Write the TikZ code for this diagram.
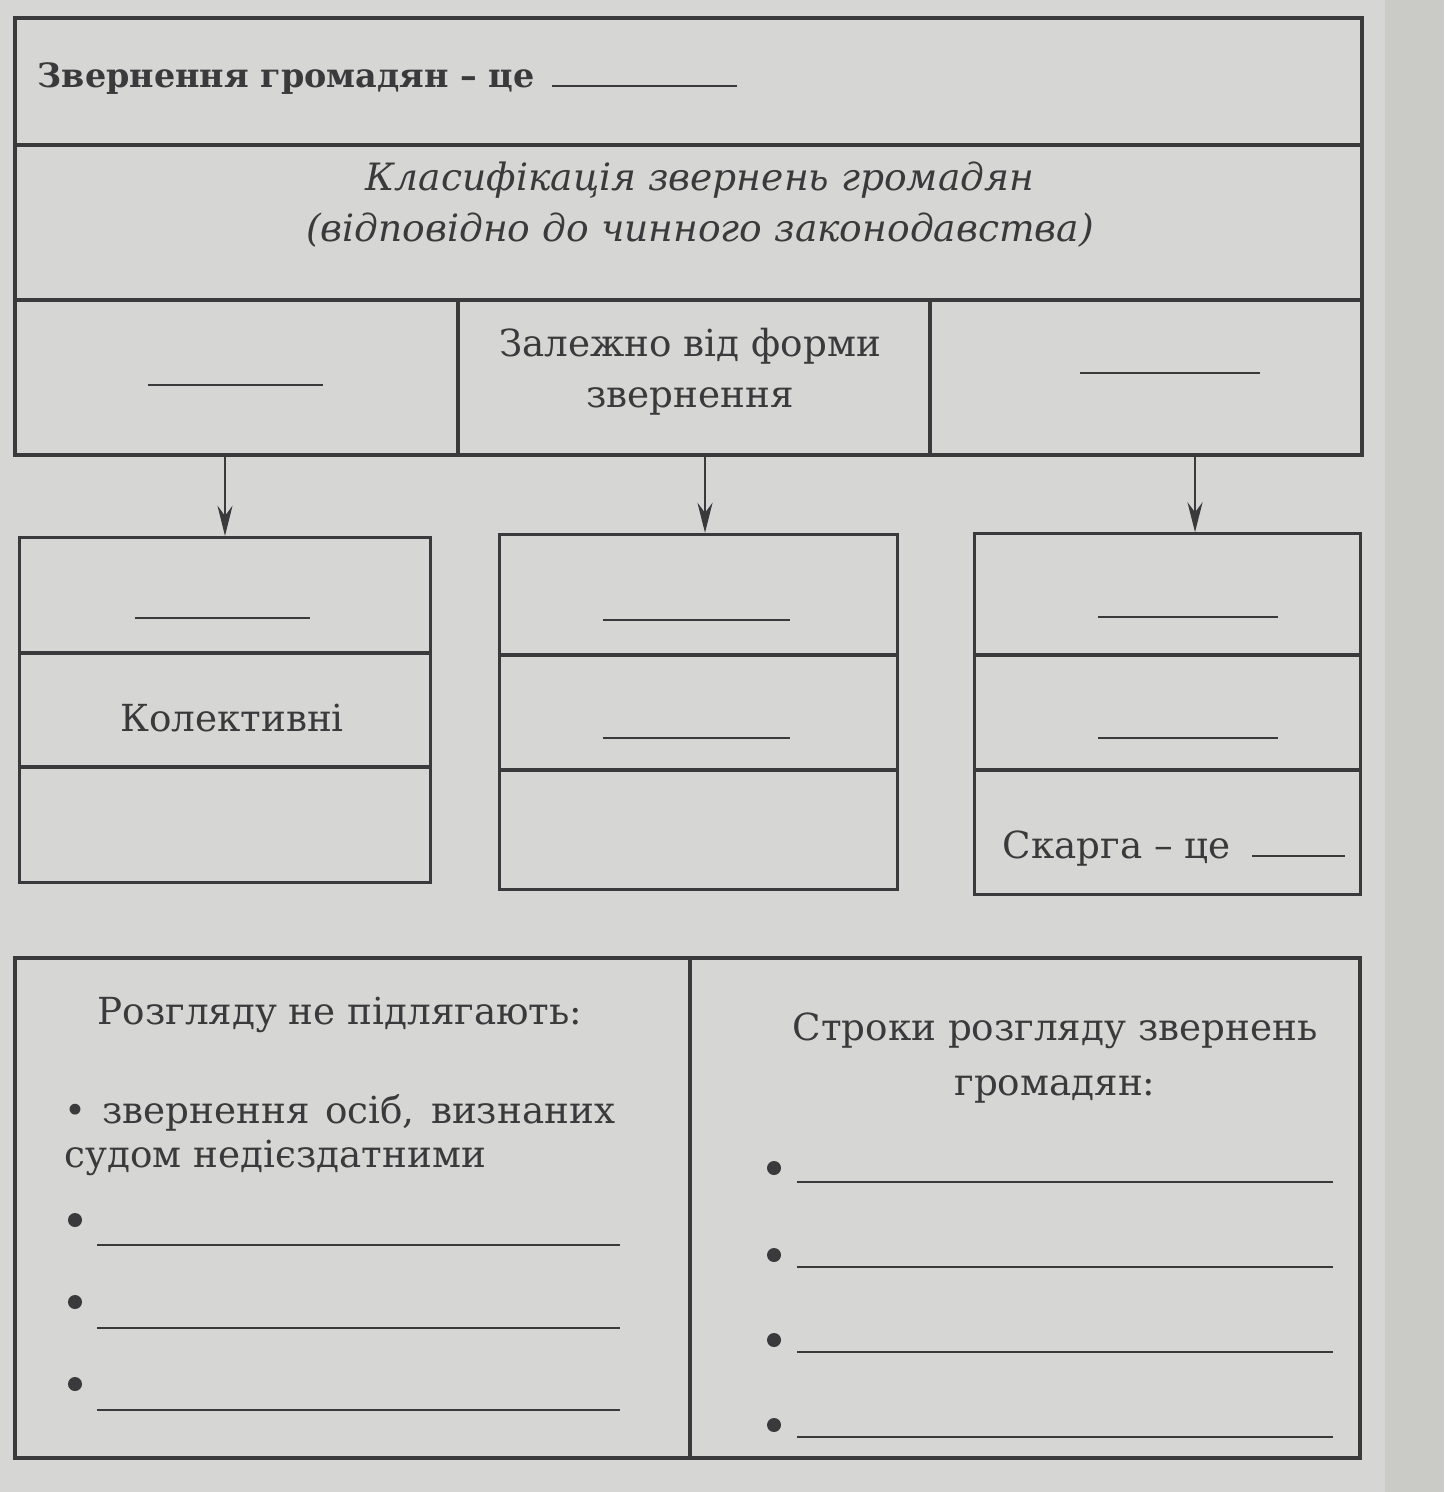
\documentclass[tikz,border=0pt]{standalone}
\usepackage{fontspec}
\setmainfont{DejaVu Serif}
\usetikzlibrary{arrows.meta}
\definecolor{paper}{RGB}{214,214,212}
\definecolor{edge}{RGB}{202,202,198}
\definecolor{ink}{RGB}{58,58,60}
\begin{document}
\begin{tikzpicture}[x=0.01cm,y=-0.01cm,
  frame/.style={draw=ink,line width=0.9pt},
  blank/.style={draw=ink,line width=0.7pt},
  txt/.style={text=ink,font=\fontsize{10.6}{14.5}\selectfont,inner sep=0pt},
  itxt/.style={txt,font=\fontsize{10.7}{14.5}\selectfont\itshape},
  boxst/.style={frame,inner sep=0pt},
  arr/.style={draw=ink,line width=0.8pt,-{Stealth[length=0.3cm,width=0.15cm,inset=0.1cm]}},
  dot/.style={circle,fill=ink,inner sep=0pt,minimum size=0.14cm}]
\useasboundingbox (0,0) rectangle (1444,1492);
\fill[paper] (0,0) rectangle (1444,1492);
\fill[edge] (1385,0) rectangle (1444,1492);
% header block
\draw[frame] (15,18) rectangle (1362,455);
\draw[frame] (15,145) -- (1362,145);
\draw[frame] (15,300) -- (1362,300);
\draw[frame] (458,300) -- (458,455);
\draw[frame] (930,300) -- (930,455);
\node[txt,anchor=base west,font=\fontsize{9.5}{14}\selectfont\bfseries] (title) at (37,88) {Звернення громадян – це};
\draw[blank] (552,86) -- (737,86);
\node[itxt,align=center] (klas) at (700,205) {Класифікація звернень громадян\\(відповідно до чинного законодавства)};
\node[txt,align=center] (forma) at (690,372) {Залежно від форми\\звернення};
\draw[blank] (148,385) -- (323,385);
\draw[blank] (1080,373) -- (1260,373);
\coordinate (a1) at (225,455);
\coordinate (a2) at (705,455);
\coordinate (a3) at (1195,455);
% three boxes
\node[boxst,minimum width=4.1cm,minimum height=3.45cm] (b1) at (225,710) {};
\node[boxst,minimum width=3.97cm,minimum height=3.55cm] (b2) at (698.5,712) {};
\node[boxst,minimum width=3.85cm,minimum height=3.6cm] (b3) at (1167.5,714) {};
\draw[arr] (a1) -- (a1 |- b1.north);
\draw[arr] (a2) -- (a2 |- b2.north);
\draw[arr] (a3) -- (a3 |- b3.north);
\draw[frame] (20,653) -- (430,653);
\draw[frame] (20,767) -- (430,767);
\draw[frame] (500,655) -- (897,655);
\draw[frame] (500,770) -- (897,770);
\draw[frame] (975,655) -- (1360,655);
\draw[frame] (975,770) -- (1360,770);
\draw[blank] (135,618) -- (310,618);
\node[txt] (kol) at (232,718) {Колективні};
\draw[blank] (603,620) -- (790,620);
\draw[blank] (603,738) -- (790,738);
\draw[blank] (1098,617) -- (1278,617);
\draw[blank] (1098,738) -- (1278,738);
\node[txt,anchor=base west] (skarga) at (1002,858) {Скарга – це};
\draw[blank] (1252,856) -- (1345,856);
% bottom block
\draw[frame] (15,958) rectangle (1360,1458);
\draw[frame] (690,958) -- (690,1458);
\node[txt] (rozg) at (340,1015) {Розгляду не підлягають:};
\node[txt,anchor=north west,align=left,font=\fontsize{10.6}{12.6}\selectfont] (osib) at (64,1094) {\makebox[5.5cm][s]{\textbullet\ звернення осіб, визнаних}\\судом недієздатними};
\node[dot] (l1) at (75,1220) {};
\node[dot] (l2) at (75,1302) {};
\node[dot] (l3) at (75,1384) {};
\draw[blank] (97,1245) -- (620,1245);
\draw[blank] (97,1328) -- (620,1328);
\draw[blank] (97,1410) -- (620,1410);
\node[txt,align=center,font=\fontsize{10.6}{15.5}\selectfont] (stroky) at (1055,1058) {Строки розгляду звернень\\громадян:};
\node[dot] (r1) at (774,1168) {};
\node[dot] (r2) at (774,1255) {};
\node[dot] (r3) at (774,1340) {};
\node[dot] (r4) at (774,1425) {};
\draw[blank] (797,1182) -- (1333,1182);
\draw[blank] (797,1267) -- (1333,1267);
\draw[blank] (797,1352) -- (1333,1352);
\draw[blank] (797,1437) -- (1333,1437);
\end{tikzpicture}
\end{document}
